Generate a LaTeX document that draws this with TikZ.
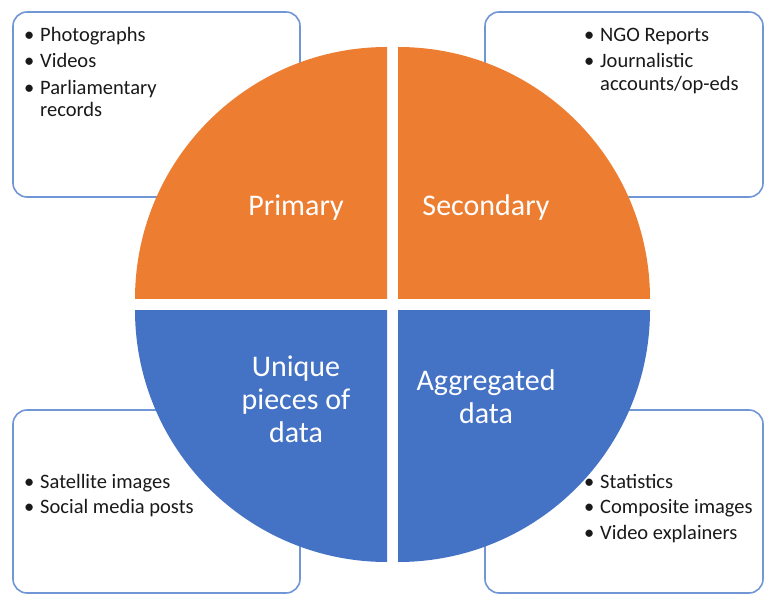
\documentclass[tikz,border=0pt]{standalone}
\usepackage{fontspec}
\setmainfont{Carlito}
\definecolor{srcorange}{HTML}{ED7D31}
\definecolor{srcblue}{HTML}{4472C4}
\definecolor{boxline}{HTML}{7196D6}
\tikzset{
  srcbox/.style={draw=boxline, line width=1.6pt, rounded corners=14pt},
  srclist/.style={anchor=north west, inner sep=0pt, align=left, text=black!90,
    font=\fontsize{20.5}{22.5}\selectfont},
  quadlabel/.style={text=white, align=center, font=\fontsize{30}{33}\selectfont}
}
\newcommand{\bul}{\makebox[16pt][l]{\textbullet}}
\newcommand{\bulgap}{\hspace*{16pt}}
\begin{document}
\begin{tikzpicture}[x=1pt, y=1pt]
	\useasboundingbox (0,0) rectangle (765,595);

	\draw [srcbox] (13,398) rectangle (300,583);
	\draw [srcbox] (485,398) rectangle (763,583);
	\draw [srcbox] (13,2) rectangle (300,185);
	\draw [srcbox] (485,2) rectangle (763,185);

	\node (primlist) [srclist] at (24,568) {\bul Photographs\\[4pt]\bul Videos\\[4pt]\bul Parliamentary\\\bulgap records};
	\node (seclist) [srclist] at (584,567) {\bul NGO Reports\\[4pt]\bul Journalistic\\\bulgap accounts/op-eds};
	\node (uniqlist) [srclist] at (24,121) {\bul Satellite images\\[3pt]\bul Social media posts};
	\node (aggrlist) [srclist] at (584,121) {\bul Statistics\\[3pt]\bul Composite images\\[3pt]\bul Video explainers};

	\coordinate (TL) at (387,296);
	\coordinate (TR) at (398,296);
	\coordinate (BL) at (387,285);
	\coordinate (BR) at (398,285);
	\fill [srcorange] (TL) -- ++(-252,0) arc [start angle=180, end angle=90, radius=252] -- cycle;
	\fill [srcorange] (TR) -- ++(0,252) arc [start angle=90, end angle=0, radius=252] -- cycle;
	\fill [srcblue] (BL) -- ++(-252,0) arc [start angle=180, end angle=270, radius=252] -- cycle;
	\fill [srcblue] (BR) -- ++(252,0) arc [start angle=0, end angle=-90, radius=252] -- cycle;

	\node (primary) [quadlabel] at (296,387) {Primary};
	\node (secondary) [quadlabel] at (486,387) {Secondary};
	\node (unique) [quadlabel] at (296,196) {Unique\\pieces of\\data};
	\node (aggregated) [quadlabel] at (486,198) {Aggregated\\data};

\end{tikzpicture}
\end{document}
